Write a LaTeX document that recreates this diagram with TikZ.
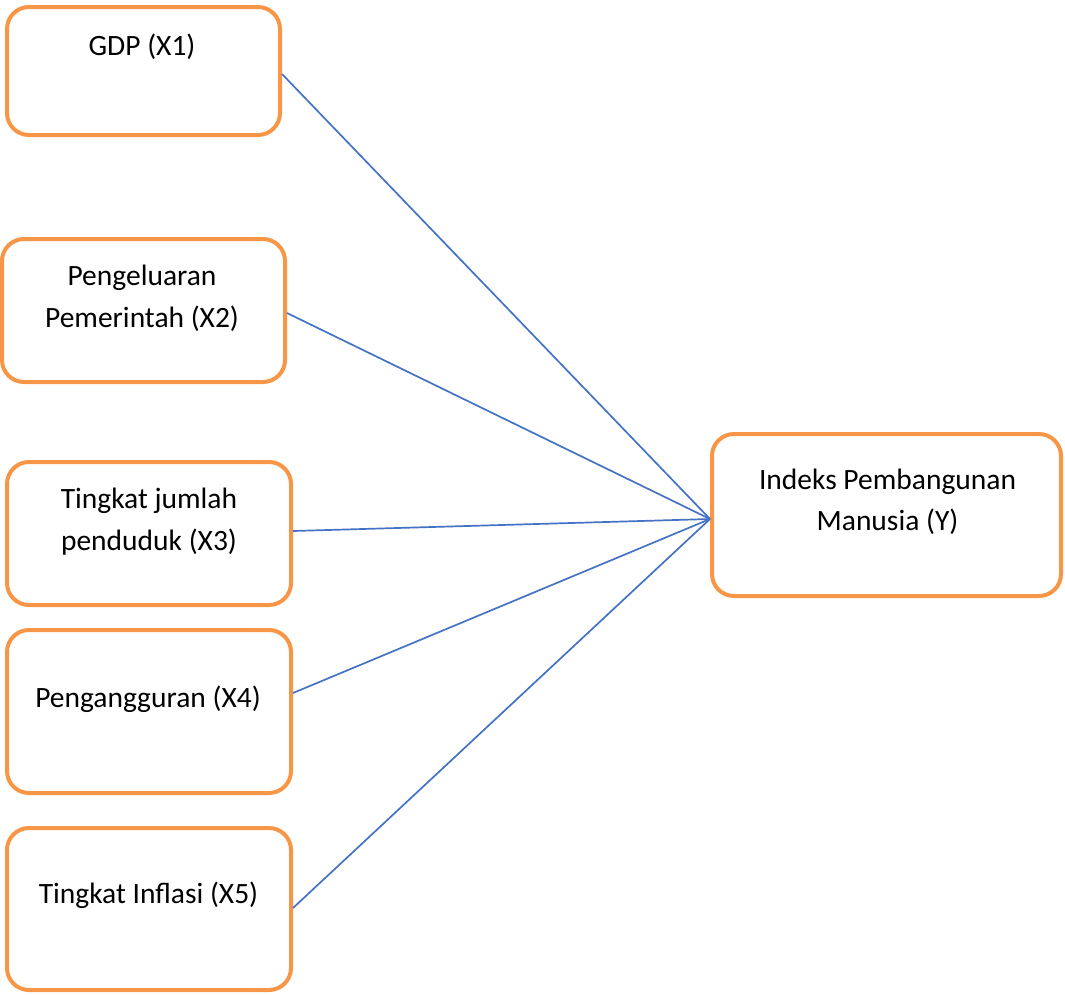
\documentclass[tikz,border=0pt]{standalone}
\usepackage{fontspec}
\setmainfont{Carlito}
\definecolor{boxorange}{HTML}{F79646}
\definecolor{lineblue}{HTML}{4472C4}
\begin{document}
\begin{tikzpicture}[x=1pt,y=-1pt,
  varbox/.style={draw=boxorange, line width=4pt, rounded corners=22pt, fill=none, inner sep=0pt},
  lbl/.style={anchor=base, inner sep=0pt, font=\fontsize{29.5}{42}\selectfont},
  link/.style={draw=lineblue, line width=1.7pt}]
\useasboundingbox (0,0) rectangle (1065,994);
% boxes
\node[varbox, minimum width=273pt, minimum height=128pt] (b1) at (143.5,71) {};
\node[varbox, minimum width=283pt, minimum height=143pt] (b2) at (143.5,310.5) {};
\node[varbox, minimum width=284pt, minimum height=143pt] (b3) at (149,533.5) {};
\node[varbox, minimum width=284pt, minimum height=163pt] (b4) at (149,711.5) {};
\node[varbox, minimum width=284pt, minimum height=162pt] (b5) at (149,909) {};
\node[varbox, minimum width=349pt, minimum height=162pt] (by) at (886.5,515) {};
% labels
\node[lbl] (t1) at (142,55) {GDP (X1)};
\node[lbl] (t2a) at (142,285) {Pengeluaran};
\node[lbl] (t2b) at (142,327) {Pemerintah (X2)};
\node[lbl] (t3a) at (149,508) {Tingkat jumlah};
\node[lbl] (t3b) at (149,550) {penduduk (X3)};
\node[lbl] (t4) at (148,707) {Penganggur{}an (X4)};
\node[lbl] (t5) at (148.5,903) {Tingkat Inflasi (X5)};
\node[lbl] (tya) at (887.5,489) {Indeks Pembangunan};
\node[lbl] (tyb) at (887.5,530) {Manusia (Y)};
% hub on the left side of the Y box
\coordinate (hub) at ([yshift=-4pt]by.west);
% connectors
\draw[link] ([yshift=-3pt]b1.east) -- (hub);
\draw[link] ([yshift=-2.5pt]b2.east) -- (hub);
\draw[link] ([yshift=2.5pt]b3.east) -- (hub);
\draw[link] ([yshift=18.5pt]b4.east) -- (hub);
\draw[link] ([yshift=1pt]b5.east) -- (hub);
\end{tikzpicture}
\end{document}
